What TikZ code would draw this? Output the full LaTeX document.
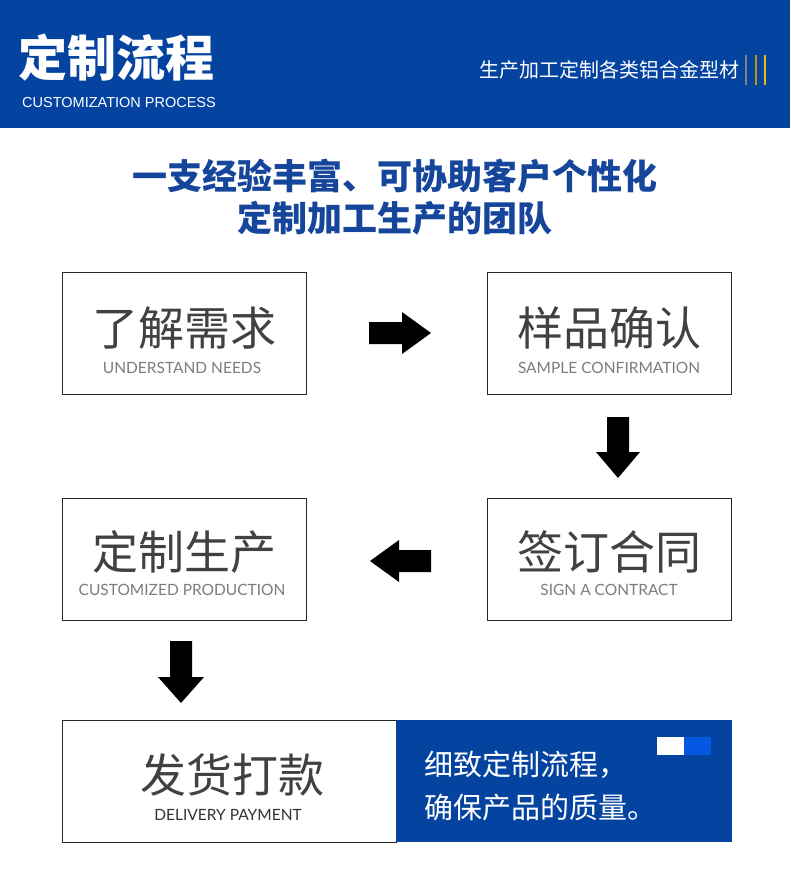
\documentclass[tikz,border=0pt]{standalone}
\usepackage{fontspec}
\newfontfamily\cjk{Noto Sans CJK SC}
\newfontfamily\lato{Lato}
\newfontfamily\arial{Liberation Sans}
\definecolor{hblue}{RGB}{4,68,160}
\definecolor{tblue}{RGB}{22,70,155}
\definecolor{lblue}{RGB}{5,88,225}
\definecolor{cgray}{RGB}{65,65,65}
\definecolor{egray}{RGB}{125,125,125}
\definecolor{ygold}{RGB}{230,190,20}
\tikzset{
  stepbox/.style={draw=black!85, line width=1pt, fill=white},
  cn/.style={font=\cjk\fontsize{46}{46}\selectfont, text=cgray, inner sep=0pt},
  en/.style={font=\lato\fontsize{15.5}{16}\selectfont, text=egray, inner sep=0pt},
  blkarrow/.style={fill=black, draw=none}
}
\begin{document}
\begin{tikzpicture}[x=1pt,y=-1pt]
\useasboundingbox (0,0) rectangle (790,894);
\fill[white] (0,0) rectangle (790,894);
% header
\fill[hblue] (0,0) rectangle (790,128);
\node[font=\cjk\bfseries\fontsize{49}{49}\selectfont, text=white, anchor=west, inner sep=0pt] (title) at (18,58) {定制流程};
\node[font=\arial\fontsize{14.5}{15}\selectfont, text=white, anchor=west, inner sep=0pt] (sub) at (22,103) {CUSTOMIZATION PROCESS};
\node[font=\cjk\fontsize{20}{20}\selectfont, text=white, anchor=east, inner sep=0pt] (slogan) at (740,70) {生产加工定制各类铝合金型材};
\draw[gray, line width=1.2pt] (746,55) -- (746,85);
\draw[ygold!80!black, line width=1.2pt] (756,55) -- (756,85);
\draw[ygold, line width=1.2pt] (765,55) -- (765,85);
% heading
\node[font=\cjk\bfseries\fontsize{35}{35}\selectfont, text=tblue, inner sep=0pt] (h1) at (395,176) {一支经验丰富、可协助客户个性化};
\node[font=\cjk\bfseries\fontsize{35}{35}\selectfont, text=tblue, inner sep=0pt] (h2) at (395,218) {定制加工生产的团队};
% boxes
\draw[stepbox] (62,272) rectangle (306,394);
\node[cn] (c1) at (184,328) {了解需求};
\node[en] (e1) at (182,368) {UNDERSTAND NEEDS};
\draw[stepbox] (487,272) rectangle (731,394);
\node[cn] (c2) at (609,328) {样品确认};
\node[en] (e2) at (609,368) {SAMPLE CONFIRMATION};
\draw[stepbox] (487,498) rectangle (731,620);
\node[cn] (c3) at (609,552) {签订合同};
\node[en] (e3) at (609,590) {SIGN A CONTRACT};
\draw[stepbox] (62,498) rectangle (306,620);
\node[cn] (c4) at (184,552) {定制生产};
\node[en] (e4) at (182,590) {CUSTOMIZED PRODUCTION};
% bottom
\draw[stepbox] (62,720) rectangle (396,842);
\node[cn] (c5) at (232,775) {发货打款};
\node[en, text=black!80] (e5) at (228,815) {DELIVERY PAYMENT};
\fill[hblue] (396,720) rectangle (732,842);
\node[font=\cjk\fontsize{29}{29}\selectfont, text=white, anchor=west, inner sep=0pt] (b1) at (424,765) {细致定制流程，};
\node[font=\cjk\fontsize{29}{29}\selectfont, text=white, anchor=west, inner sep=0pt] (b2) at (424,808) {确保产品的质量。};
\fill[white] (657,737) rectangle (684,755);
\fill[lblue] (684,737) rectangle (711,755);
% arrows
\fill[blkarrow] (369,322) -- (402,322) -- (402,312) -- (431,333) -- (402,354) -- (402,344) -- (369,344) -- cycle;
\fill[blkarrow] (607,417) -- (629,417) -- (629,452) -- (640,452) -- (618,478) -- (596,452) -- (607,452) -- cycle;
\fill[blkarrow] (431,550) -- (399,550) -- (399,540) -- (370,561) -- (399,582) -- (399,572) -- (431,572) -- cycle;
\fill[blkarrow] (170,641) -- (192,641) -- (192,677) -- (204,677) -- (181,703) -- (158,677) -- (170,677) -- cycle;
\end{tikzpicture}
\end{document}
